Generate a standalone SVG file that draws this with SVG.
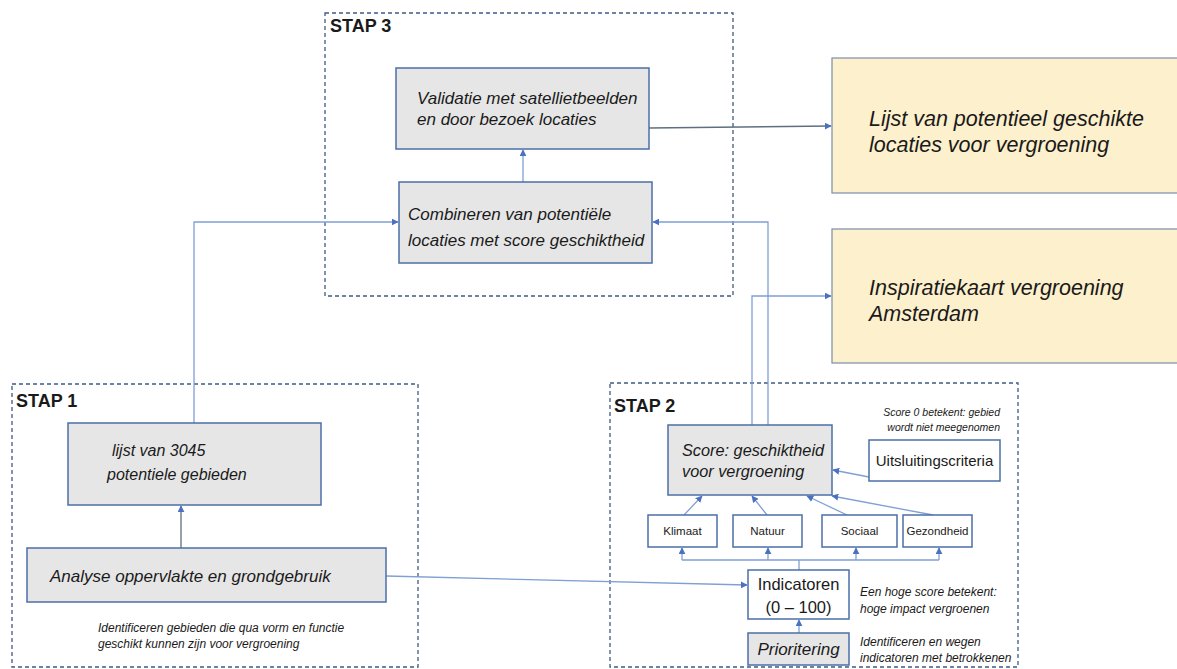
<svg xmlns="http://www.w3.org/2000/svg" width="1177" height="669" viewBox="0 0 1177 669">
<style>
text{font-family:"Liberation Sans",Arial,sans-serif;fill:#1a1a1a}
.it{font-style:italic}
.stap{fill:none;stroke:#3f5a86;stroke-width:1.3;stroke-dasharray:4 3}
.gray{fill:#e6e6e6;stroke:#4a6fa8;stroke-width:1.5}
.white{fill:#ffffff;stroke:#4a6fa8;stroke-width:1.5}
.yel{fill:#fdf0cc;stroke:#7d8ca8;stroke-width:1.2}
.lbl{font-weight:bold;font-size:18px}
.c{fill:none;stroke:#7f9fd6;stroke-width:1.3}
.cd{fill:none;stroke:#5f6f80;stroke-width:1.3}
</style>
<defs>
<marker id="ah" viewBox="0 0 10 10" refX="9" refY="5" markerWidth="7" markerHeight="7" orient="auto" markerUnits="userSpaceOnUse">
<path d="M0,0 L10,5 L0,10 z" fill="#4a72c0"/>
</marker>
</defs>
<rect width="1177" height="669" fill="#ffffff"/>

<g id="stap3">
<rect class="stap" x="325" y="13" width="408" height="283"/>
<text class="lbl" x="330" y="32">STAP 3</text>
</g>
<g id="stap1">
<rect class="stap" x="12" y="384" width="406" height="283"/>
<text class="lbl" x="16" y="407">STAP 1</text>
</g>
<g id="stap2">
<rect class="stap" x="610" y="383" width="408" height="284"/>
<text class="lbl" x="614" y="412">STAP 2</text>
</g>

<g id="connectors">
<path class="c" d="M523,182 V150" marker-end="url(#ah)"/>
<path class="cd" d="M649,128 L831,126" marker-end="url(#ah)"/>
<path class="c" d="M194,423 V222 H398" marker-end="url(#ah)"/>
<path class="c" d="M768,425 V222 H653" marker-end="url(#ah)"/>
<path class="c" d="M752,425 V296 H831" marker-end="url(#ah)"/>
<path class="cd" d="M181,548 V506" marker-end="url(#ah)"/>
<path class="c" d="M386,576 L747,585" marker-end="url(#ah)"/>
<path class="c" d="M869,477 L833,470" marker-end="url(#ah)"/>
<path class="c" d="M684,515 L702,496" marker-end="url(#ah)"/>
<path class="c" d="M767,515 L752,496" marker-end="url(#ah)"/>
<path class="c" d="M847,515 L807,496" marker-end="url(#ah)"/>
<path class="c" d="M933,515 L832,496" marker-end="url(#ah)"/>
<path class="c" d="M799,570 V560 M682,560 H939"/>
<path class="c" d="M682,560 V548" marker-end="url(#ah)"/>
<path class="c" d="M768,560 V548" marker-end="url(#ah)"/>
<path class="c" d="M856,560 V548" marker-end="url(#ah)"/>
<path class="c" d="M939,560 V548" marker-end="url(#ah)"/>
<path class="c" d="M799,633 V620" marker-end="url(#ah)"/>
</g>

<g id="validatie">
<rect class="gray" x="396" y="68" width="253" height="81"/>
<text class="it" x="417" y="104" font-size="17">Validatie met satellietbeelden</text>
<text class="it" x="417" y="125" font-size="17">en door bezoek locaties</text>
</g>
<g id="combineren">
<rect class="gray" x="399" y="182" width="253" height="81"/>
<text class="it" x="408" y="220" font-size="17">Combineren van potentiële</text>
<text class="it" x="408" y="246" font-size="17">locaties met score geschiktheid</text>
</g>
<g id="lijst-locaties">
<rect class="yel" x="832" y="58" width="350" height="135"/>
<text class="it" x="869" y="126" font-size="21.5">Lijst van potentieel geschikte</text>
<text class="it" x="869" y="152" font-size="21.5">locaties voor vergroening</text>
</g>
<g id="inspiratiekaart">
<rect class="yel" x="832" y="229" width="350" height="134"/>
<text class="it" x="869" y="295" font-size="21.5">Inspiratiekaart vergroening</text>
<text class="it" x="869" y="321" font-size="21.5">Amsterdam</text>
</g>
<g id="lijst-3045">
<rect class="gray" x="68" y="423" width="253" height="82"/>
<text class="it" x="112" y="456" font-size="16">lijst van 3045</text>
<text class="it" x="107" y="480" font-size="16">potentiele gebieden</text>
</g>
<g id="analyse">
<rect class="gray" x="27" y="548" width="359" height="54"/>
<text class="it" x="50" y="582" font-size="17">Analyse oppervlakte en grondgebruik</text>
</g>
<g id="note-stap1">
<text class="it" x="98" y="632" font-size="12">Identificeren gebieden die qua vorm en functie</text>
<text class="it" x="98" y="648" font-size="12">geschikt kunnen zijn voor vergroening</text>
</g>
<g id="score">
<rect class="gray" x="668" y="425" width="164" height="70"/>
<text class="it" x="682" y="456" font-size="16.3">Score: geschiktheid</text>
<text class="it" x="682" y="477" font-size="16.3">voor vergroening</text>
</g>
<g id="note-score0">
<text class="it" x="1000" y="416" font-size="10.5" text-anchor="end">Score 0 betekent: gebied</text>
<text class="it" x="1000" y="431" font-size="10.5" text-anchor="end">wordt niet meegenomen</text>
</g>
<g id="uitsluitingscriteria">
<rect class="white" x="869" y="440" width="131" height="41"/>
<text x="934.5" y="466" font-size="15" text-anchor="middle">Uitsluitingscriteria</text>
</g>
<g id="klimaat">
<rect class="white" x="648" y="515" width="69" height="32"/>
<text x="682.5" y="535" font-size="11.5" text-anchor="middle">Klimaat</text>
</g>
<g id="natuur">
<rect class="white" x="733" y="515" width="69" height="32"/>
<text x="767.5" y="535" font-size="11.5" text-anchor="middle">Natuur</text>
</g>
<g id="sociaal">
<rect class="white" x="822" y="515" width="75" height="32"/>
<text x="859.5" y="535" font-size="11.5" text-anchor="middle">Sociaal</text>
</g>
<g id="gezondheid">
<rect class="white" x="903" y="515" width="69" height="32"/>
<text x="937.5" y="535" font-size="11.5" text-anchor="middle">Gezondheid</text>
</g>
<g id="indicatoren">
<rect class="white" x="748" y="570" width="101" height="49"/>
<text x="798.5" y="590" font-size="16.5" text-anchor="middle">Indicatoren</text>
<text x="798.5" y="613" font-size="16.5" text-anchor="middle">(0 – 100)</text>
</g>
<g id="note-indicatoren">
<text class="it" x="860" y="596" font-size="12">Een hoge score betekent:</text>
<text class="it" x="860" y="613" font-size="12">hoge impact vergroenen</text>
</g>
<g id="prioritering">
<rect class="gray" x="748" y="633" width="101" height="32"/>
<text class="it" x="798.5" y="655" font-size="17" text-anchor="middle">Prioritering</text>
</g>
<g id="note-prioritering">
<text class="it" x="860" y="646" font-size="12">Identificeren en wegen</text>
<text class="it" x="860" y="662" font-size="12">indicatoren met betrokkenen</text>
</g>
</svg>
